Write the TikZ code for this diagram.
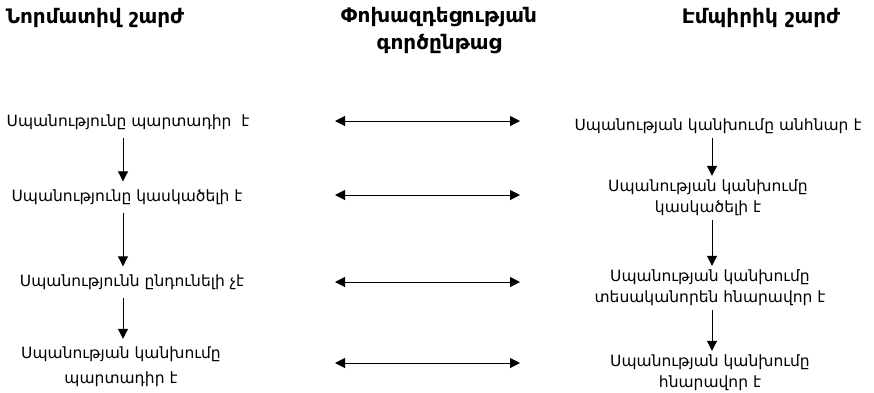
\documentclass[tikz,border=0pt]{standalone}
\usepackage{fontspec}
\setmainfont{DejaVu Sans}
\usetikzlibrary{arrows.meta}
\begin{document}
\begin{tikzpicture}[x=1pt,y=-1pt,
  txt/.style={font=\fontsize{15.5}{21}\selectfont, align=center, inner xsep=2pt},
  ltxt/.style={txt, inner ysep=8pt},
  rtxt/.style={txt, inner ysep=4pt},
  hdr/.style={font=\fontsize{20}{27}\selectfont\bfseries, align=center, inner sep=0pt},
  arr/.style={-{Triangle[length=10pt,width=10pt]}, line width=1pt},
  darr/.style={{Triangle[length=10pt,width=10pt]}-{Triangle[length=10pt,width=10pt]}, line width=1pt}]
\path[use as bounding box, fill=white] (0,0) rectangle (874,392);
% headers
\node[hdr] (h1) at (95,18) {Նորմատիվ շարժ};
\node[hdr] (h2) at (439,31) {Փոխազդեցության\\գործընթաց};
\node[hdr] (h3) at (761,18) {Էմպիրիկ շարժ};
% columns
\coordinate (xl) at (123,0);
\coordinate (xr) at (712,0);
% left column
\node[ltxt] (L1) at (128,122) {Սպանությունը պարտադիր \ է};
\node[ltxt] (L2) at (127,197) {Սպանությունը կասկածելի է};
\node[ltxt] (L3) at (132,282) {Սպանությունն ընդունելի չէ};
\node[ltxt, font=\fontsize{15.5}{25}\selectfont] (L4) at (121,367) {Սպանության կանխումը\\պարտադիր է};
% right column
\node[rtxt] (R1) at (718,126) {Սպանության կանխումը անհնար է};
\node[rtxt] (R2) at (708,198) {Սպանության կանխումը\\կասկածելի է};
\node[rtxt] (R3) at (710,288) {Սպանության կանխումը\\տեսականորեն հնարավոր է};
\node[rtxt] (R4) at (710,373) {Սպանության կանխումը\\հնարավոր է};
% vertical arrows
\draw[arr] (L1.south -| xl) -- (L2.north -| xl);
\draw[arr] (L2.south -| xl) -- (L3.north -| xl);
\draw[arr] (L3.south -| xl) -- (L4.north -| xl);
\draw[arr] (R1.south -| xr) -- (R2.north -| xr);
\draw[arr] (R2.south -| xr) -- (R3.north -| xr);
\draw[arr] (R3.south -| xr) -- (R4.north -| xr);
% middle double arrows
\coordinate (m1a) at (335,121); \coordinate (m1b) at (520,121);
\coordinate (m2a) at (335,195); \coordinate (m2b) at (520,195);
\coordinate (m3a) at (335,282); \coordinate (m3b) at (520,282);
\coordinate (m4a) at (335,363); \coordinate (m4b) at (520,363);
\draw[darr] (m1a) -- (m1b);
\draw[darr] (m2a) -- (m2b);
\draw[darr] (m3a) -- (m3b);
\draw[darr] (m4a) -- (m4b);
\end{tikzpicture}
\end{document}
